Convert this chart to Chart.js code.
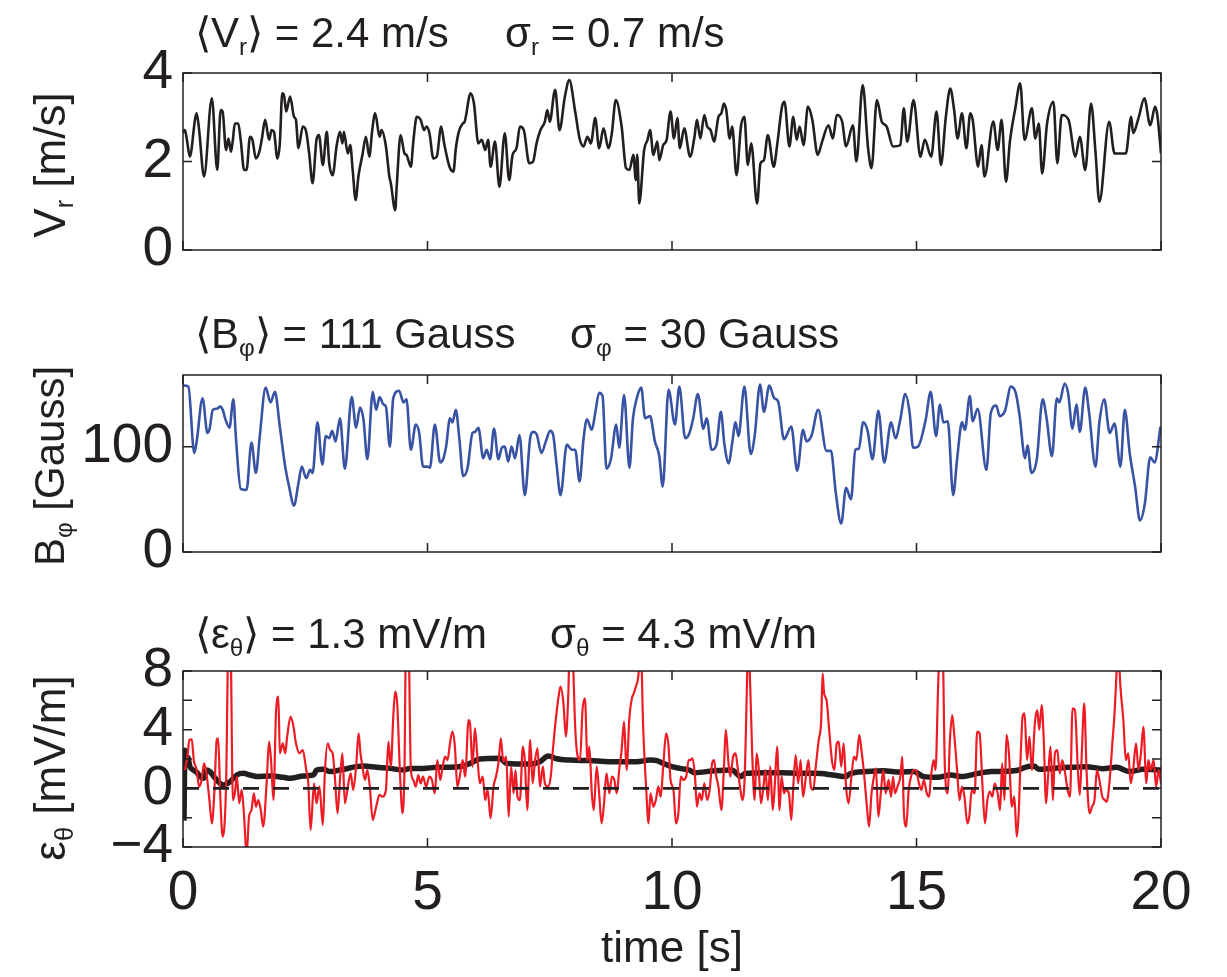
<!DOCTYPE html>
<html>
<head>
<meta charset="utf-8">
<script src="https://cdn.jsdelivr.net/npm/chart.js@4.4.0/dist/chart.umd.min.js"></script>
<style>
  body { margin: 0; background: #fff; }
  #wrap { position: relative; width: 1227px; height: 977px; overflow: hidden;
          font-family: 'Liberation Sans', Arial, Helvetica, sans-serif; color: #231f20; }
  #wrap canvas { position: absolute; left: 0; top: 0; }
  .t { position: absolute; font-size: 42px; line-height: 1; white-space: nowrap; }
  .yl { position: absolute; font-size: 44px; line-height: 1; white-space: nowrap;
        transform: translate(-50%, -50%) rotate(-90deg); }
  sub { font-size: 0.58em; vertical-align: -0.32em; line-height: 0; }
</style>
</head>
<body>
<div id="wrap">
  <canvas id="c1" width="1227" height="977"></canvas>
  <canvas id="c2" width="1227" height="977"></canvas>
  <canvas id="c3" width="1227" height="977"></canvas>

  <div class="t" style="left:195px; top:12px;">⟨V<sub>r</sub>⟩ = 2.4 m/s</div>
  <div class="t" style="left:505px; top:12px;">σ<sub>r</sub> = 0.7 m/s</div>
  <div class="t" style="left:195px; top:313px;">⟨B<sub>φ</sub>⟩ = 111 Gauss</div>
  <div class="t" style="left:570px; top:313px;">σ<sub>φ</sub> = 30 Gauss</div>
  <div class="t" style="left:195px; top:613px;">⟨ε<sub>θ</sub>⟩ = 1.3 mV/m</div>
  <div class="t" style="left:550px; top:613px;">σ<sub>θ</sub> = 4.3 mV/m</div>

  <div class="yl" style="left:50px; top:165px;">V<sub>r</sub> [m/s]</div>
  <div class="yl" style="left:50px; top:466px; font-size:42px;">B<sub>φ</sub> [Gauss]</div>
  <div class="yl" style="left:50px; top:768px;">ε<sub>θ</sub> [mV/m]</div>
  <div class="yl" style="left:672px; top:947px; transform: translate(-50%, -50%);">time [s]</div>
</div>
<script>
const INK = '#231f20';
const FONT = "'Liberation Sans', Arial, Helvetica, sans-serif";

// time ticks shared by the three panels
const timeTicks = [0, 5, 10, 15, 20];

// panel 1: radial velocity [m/s]
const vrTicks = [0, 2, 4];
const vrTickLabels = ['0', '2', '4'];
const vrSeries = [
  [0, 2.65], [0.04, 2.71], [0.08, 2.49], [0.14, 2.11], [0.25, 2.98], [0.28, 3.09], [0.33, 2.71], [0.43, 1.66],
  [0.59, 3.43], [0.70, 1.81], [0.77, 3.16], [0.81, 3.13], [0.88, 2.26], [0.93, 2.52], [0.98, 2.22], [1.02, 2.49],
  [1.06, 2.86], [1.13, 2.86], [1.18, 2.49], [1.25, 1.81], [1.30, 1.81], [1.37, 2.56], [1.42, 2.49], [1.49, 2.07],
  [1.56, 2.22], [1.61, 2.49], [1.68, 2.94], [1.76, 2.49], [1.81, 2.71], [1.86, 2.67], [1.93, 2.07], [1.98, 2.41],
  [2.03, 3.54], [2.07, 3.47], [2.11, 3.13], [2.19, 3.47], [2.27, 3.01], [2.31, 2.94], [2.36, 2.30], [2.45, 2.79],
  [2.52, 2.67], [2.58, 2.18], [2.65, 1.51], [2.73, 2.49], [2.78, 2.60], [2.86, 1.92], [2.94, 2.67], [2.99, 1.96],
  [3.06, 1.69], [3.14, 2.34], [3.21, 2.67], [3.26, 2.41], [3.29, 2.67], [3.37, 2.18], [3.42, 2.37], [3.47, 1.81],
  [3.53, 1.13], [3.59, 1.69], [3.67, 2.15], [3.74, 2.56], [3.81, 2.11], [3.87, 2.71], [3.93, 3.09], [4.02, 2.56],
  [4.06, 2.71], [4.15, 2.34], [4.22, 1.66], [4.25, 1.51], [4.34, 0.90], [4.37, 1.43], [4.45, 2.60], [4.53, 2.18],
  [4.57, 2.15], [4.66, 1.88], [4.71, 2.45], [4.78, 3.01], [4.86, 2.94], [4.93, 2.71], [4.98, 2.79], [5.04, 2.64],
  [5.12, 2.07], [5.19, 2.11], [5.28, 2.79], [5.34, 2.41], [5.45, 1.88], [5.53, 1.77], [5.58, 2.30], [5.64, 2.67],
  [5.72, 2.86], [5.76, 2.90], [5.88, 3.54], [5.95, 3.31], [6.04, 2.41], [6.11, 2.49], [6.18, 2.26], [6.24, 2.49],
  [6.29, 1.88], [6.38, 2.45], [6.47, 1.43], [6.58, 2.64], [6.67, 1.58], [6.74, 2.15], [6.82, 2.30], [6.89, 2.79],
  [6.97, 2.71], [7.08, 1.96], [7.16, 2.00], [7.23, 2.41], [7.31, 2.71], [7.40, 2.90], [7.45, 3.16], [7.50, 2.90],
  [7.61, 3.62], [7.70, 2.71], [7.81, 3.47], [7.90, 3.84], [8.02, 3.13], [8.11, 2.52], [8.19, 2.34], [8.27, 2.56],
  [8.34, 2.41], [8.43, 2.98], [8.51, 2.30], [8.60, 2.75], [8.70, 2.30], [8.77, 2.64], [8.85, 3.39], [8.97, 2.79],
  [9.06, 1.85], [9.13, 1.81], [9.21, 2.15], [9.26, 1.58], [9.29, 2.15], [9.33, 1.05], [9.43, 2.26], [9.50, 2.49],
  [9.55, 2.71], [9.62, 2.15], [9.70, 2.45], [9.74, 2.03], [9.82, 2.37], [9.89, 2.49], [9.97, 3.13], [10.04, 2.52],
  [10.11, 2.98], [10.16, 2.30], [10.25, 2.75], [10.37, 2.11], [10.46, 2.56], [10.51, 2.94], [10.58, 2.52], [10.66, 3.05],
  [10.72, 2.79], [10.79, 2.71], [10.86, 2.45], [10.95, 3.01], [11.01, 3.09], [11.06, 3.31], [11.11, 3.16], [11.18, 2.52],
  [11.23, 2.79], [11.32, 1.69], [11.41, 2.79], [11.48, 3.01], [11.55, 1.92], [11.62, 2.41], [11.74, 1.05], [11.81, 1.96],
  [11.88, 2.03], [11.96, 2.60], [12.08, 1.88], [12.15, 2.37], [12.25, 3.24], [12.30, 3.35], [12.40, 2.34], [12.48, 3.01],
  [12.55, 2.49], [12.61, 2.79], [12.69, 2.37], [12.78, 3.24], [12.87, 2.94], [12.98, 2.15], [13.07, 2.45], [13.20, 2.82],
  [13.29, 2.52], [13.37, 3.05], [13.48, 2.90], [13.56, 2.34], [13.70, 2.82], [13.77, 2.00], [13.90, 3.73], [14.01, 2.30],
  [14.08, 1.85], [14.19, 3.39], [14.29, 2.90], [14.39, 2.79], [14.52, 2.34], [14.67, 2.37], [14.74, 3.20], [14.81, 2.45],
  [14.94, 3.39], [15.08, 2.11], [15.17, 2.49], [15.30, 2.11], [15.41, 3.13], [15.50, 1.92], [15.60, 3.01], [15.69, 3.65],
  [15.77, 3.16], [15.84, 2.52], [15.93, 3.09], [16.02, 2.30], [16.10, 3.09], [16.15, 2.94], [16.26, 1.88], [16.33, 2.37],
  [16.39, 1.66], [16.57, 2.90], [16.66, 2.26], [16.74, 2.94], [16.83, 1.54], [16.91, 2.45], [17.02, 3.20], [17.12, 3.77],
  [17.21, 2.49], [17.36, 3.20], [17.43, 2.52], [17.50, 2.86], [17.57, 1.73], [17.67, 2.86], [17.80, 3.35], [17.88, 1.96],
  [17.97, 3.05], [18.11, 2.94], [18.25, 2.11], [18.34, 2.56], [18.45, 1.81], [18.57, 3.31], [18.66, 2.22], [18.74, 1.09],
  [18.94, 2.90], [19.05, 2.18], [19.28, 2.18], [19.39, 3.01], [19.43, 2.64], [19.54, 2.98], [19.66, 3.43], [19.78, 2.82],
  [19.88, 3.24], [19.93, 3.01], [20.00, 2.18]
];

// panel 2: toroidal field [Gauss]
const bTicks = [0, 100];
const bTickLabels = ['0', '100'];
const bSeries = [
  [0, 158], [0.02, 158], [0.11, 157], [0.23, 94], [0.28, 105], [0.40, 146], [0.50, 113], [0.54, 116], [0.61, 135],
  [0.69, 136], [0.76, 138], [0.82, 134], [0.86, 127], [0.95, 118], [1.03, 145], [1.08, 110], [1.18, 60], [1.30, 59],
  [1.40, 104], [1.49, 75], [1.57, 110], [1.69, 156], [1.79, 142], [1.88, 152], [1.98, 119], [2.09, 81], [2.17, 62],
  [2.27, 44], [2.36, 65], [2.43, 81], [2.52, 70], [2.60, 78], [2.65, 75], [2.75, 123], [2.85, 83], [2.92, 110],
  [2.99, 108], [3.05, 115], [3.12, 105], [3.21, 127], [3.31, 79], [3.45, 147], [3.54, 118], [3.62, 137], [3.69, 126],
  [3.77, 88], [3.88, 152], [3.95, 135], [4.02, 147], [4.10, 140], [4.15, 138], [4.23, 100], [4.30, 146], [4.42, 153],
  [4.51, 142], [4.57, 145], [4.66, 97], [4.76, 121], [4.83, 113], [4.91, 81], [5.00, 81], [5.05, 80], [5.15, 121],
  [5.26, 85], [5.32, 88], [5.38, 100], [5.46, 127], [5.51, 123], [5.58, 135], [5.65, 108], [5.73, 72], [5.82, 80],
  [5.92, 113], [5.97, 114], [6.04, 118], [6.14, 89], [6.21, 97], [6.28, 88], [6.36, 117], [6.45, 88], [6.52, 99],
  [6.58, 100], [6.65, 86], [6.72, 100], [6.79, 89], [6.88, 111], [6.99, 54], [7.10, 108], [7.16, 114], [7.23, 112],
  [7.33, 94], [7.42, 105], [7.51, 115], [7.57, 111], [7.64, 83], [7.72, 54], [7.85, 102], [7.95, 97], [8.02, 97],
  [8.11, 67], [8.19, 107], [8.26, 126], [8.36, 116], [8.43, 132], [8.51, 151], [8.58, 148], [8.66, 79], [8.75, 88],
  [8.86, 121], [8.92, 99], [9.02, 149], [9.13, 80], [9.20, 126], [9.28, 146], [9.37, 156], [9.45, 127], [9.55, 129],
  [9.65, 105], [9.74, 91], [9.81, 62], [9.93, 154], [10.06, 121], [10.15, 157], [10.27, 108], [10.35, 112],
  [10.43, 126], [10.53, 150], [10.64, 117], [10.71, 127], [10.81, 97], [10.91, 102], [11.00, 133], [11.07, 103],
  [11.16, 84], [11.23, 103], [11.30, 123], [11.36, 110], [11.48, 157], [11.61, 93], [11.69, 110], [11.80, 159],
  [11.88, 133], [11.99, 158], [12.09, 146], [12.17, 143], [12.29, 107], [12.44, 119], [12.56, 77], [12.68, 116],
  [12.75, 105], [12.85, 110], [12.99, 135], [13.16, 96], [13.25, 96], [13.35, 56], [13.46, 27], [13.56, 61],
  [13.66, 50], [13.75, 97], [13.82, 98], [13.91, 123], [14.00, 115], [14.10, 88], [14.22, 134], [14.34, 85],
  [14.48, 123], [14.57, 108], [14.67, 126], [14.77, 150], [14.86, 132], [14.93, 99], [15.03, 100], [15.19, 126],
  [15.29, 152], [15.40, 110], [15.48, 140], [15.55, 123], [15.64, 124], [15.75, 54], [15.83, 88], [15.93, 123],
  [15.99, 116], [16.09, 148], [16.15, 124], [16.25, 136], [16.43, 78], [16.52, 132], [16.63, 139], [16.70, 129],
  [16.81, 134], [16.93, 157], [17.03, 151], [17.11, 129], [17.22, 89], [17.27, 101], [17.35, 75], [17.46, 88],
  [17.58, 145], [17.66, 127], [17.77, 91], [17.87, 146], [17.92, 142], [18.03, 160], [18.10, 151], [18.19, 117],
  [18.27, 140], [18.34, 114], [18.45, 156], [18.53, 132], [18.66, 81], [18.74, 123], [18.84, 145], [18.95, 113],
  [19.05, 122], [19.17, 81], [19.26, 135], [19.36, 94], [19.47, 62], [19.57, 30], [19.67, 46], [19.78, 90],
  [19.87, 85], [19.99, 119]
];

// panel 3: electric field [mV/m], raw signal and running mean
const eTicks = [-4, -2, 0, 2, 4, 6, 8];
const eTickLabels = ['\u22124', '', '0', '', '4', '', '8'];
const eSeries = [
  [0.04, 1.25], [0.09, 2.16], [0.13, 3.30], [0.18, 3.34], [0.22, 1.93], [0.28, 1.25], [0.33, 0.11], [0.38, 0.57],
  [0.43, 1.70], [0.48, 1.02], [0.54, -0.80], [0.59, -2.39], [0.64, -0.34], [0.69, 3.30], [0.72, 3.41], [0.76, -0.34],
  [0.81, -3.30], [0.88, 0.11], [0.93, 10], [0.97, 10], [1.02, -0.80], [1.06, -0.34], [1.10, 0.80], [1.15, -1.02],
  [1.20, -0.11], [1.25, -1.93], [1.30, -4.6], [1.35, -1.93], [1.40, -1.48], [1.45, -0.34], [1.49, -1.25], [1.54, -0.80],
  [1.59, -1.48], [1.64, -2.61], [1.71, 0.34], [1.76, 3.18], [1.80, 1.93], [1.85, -0.80], [1.90, 5.00], [1.95, 6.25],
  [1.98, 2.39], [2.04, 3.07], [2.09, 2.39], [2.13, 3.52], [2.20, 4.89], [2.26, 4.20], [2.31, 3.07], [2.38, 2.39],
  [2.45, 2.61], [2.52, 1.25], [2.56, 0.45], [2.61, -2.84], [2.68, 0.34], [2.73, -1.02], [2.79, 0.11], [2.86, -2.50],
  [2.90, 1.02], [2.96, 3.07], [3.01, 2.61], [3.06, 2.39], [3.11, 0.57], [3.16, -1.70], [3.21, 0.57], [3.26, 2.39],
  [3.31, -1.02], [3.37, 0.11], [3.43, 1.02], [3.48, -0.11], [3.54, 1.48], [3.59, 3.75], [3.63, 2.39], [3.67, 1.48],
  [3.72, 0.57], [3.77, 1.25], [3.82, 0.11], [3.88, -2.16], [3.95, -1.25], [4.02, -0.45], [4.08, -0.57], [4.15, -0.11],
  [4.20, 3.18], [4.25, 1.48], [4.30, 4.89], [4.34, 6.59], [4.38, 5.80], [4.44, 0.80], [4.49, -1.70], [4.53, 1.48],
  [4.56, 10], [4.61, 10], [4.66, 1.25], [4.71, 0.57], [4.76, 0.11], [4.81, 0.91], [4.86, 0.34], [4.91, 0.80],
  [4.97, 0.11], [5.04, 0.80], [5.09, 0.57], [5.15, -0.34], [5.20, 1.93], [5.26, 0.57], [5.31, 1.48], [5.36, 2.16],
  [5.41, 1.93], [5.46, 3.07], [5.51, 3.86], [5.56, 2.84], [5.61, 0.11], [5.67, 1.02], [5.72, 1.93], [5.77, 0.80],
  [5.84, 4.66], [5.87, 4.43], [5.92, 1.48], [5.97, 4.09], [6.02, 2.16], [6.07, 0.34], [6.13, 0.80], [6.18, -0.80],
  [6.23, -0.11], [6.29, -2.05], [6.35, 0.11], [6.40, 0.80], [6.45, 1.70], [6.50, 3.41], [6.55, 1.82], [6.61, 2.16],
  [6.66, -1.93], [6.71, 1.48], [6.76, -0.34], [6.80, 1.25], [6.84, -0.57], [6.89, -0.80], [6.95, 2.84], [6.99, 1.93],
  [7.04, -1.48], [7.10, 3.30], [7.15, 0.34], [7.20, 1.93], [7.25, 2.73], [7.30, 0.11], [7.36, 1.48], [7.40, 0.34],
  [7.46, 0.11], [7.52, 0.80], [7.57, 2.84], [7.63, 4.89], [7.68, 6.25], [7.72, 6.93], [7.78, 5.80], [7.83, 3.52],
  [7.88, 6.48], [7.91, 10], [7.97, 9], [8.02, 4.20], [8.06, 2.39], [8.12, 1.93], [8.17, 5.34], [8.22, 6.14],
  [8.27, 1.93], [8.31, 2.84], [8.36, -0.34], [8.40, -1.48], [8.46, 1.48], [8.51, -0.34], [8.56, -2.39], [8.61, -1.02],
  [8.66, 1.02], [8.72, -0.34], [8.77, 0.80], [8.82, 0.57], [8.87, -0.34], [8.92, 1.25], [8.97, 2.61], [9.02, 4.55],
  [9.07, 1.25], [9.13, 4.89], [9.18, 6.14], [9.22, 6.48], [9.26, 6.93], [9.31, 7.61], [9.36, 10], [9.41, 4.20],
  [9.47, 0.11], [9.52, -2.39], [9.56, -0.34], [9.62, -1.25], [9.67, -0.80], [9.72, 0.11], [9.77, -0.57], [9.82, 1.48],
  [9.88, 3.75], [9.93, 2.84], [9.97, 0.57], [10.03, -0.11], [10.08, -2.39], [10.13, -1.70], [10.18, 0.80], [10.23, 0.57],
  [10.29, 0.80], [10.34, 1.93], [10.37, 1.93], [10.42, 2.05], [10.47, 0.80], [10.51, -1.25], [10.56, -0.34], [10.61, -0.80],
  [10.66, 0.34], [10.72, -0.80], [10.77, -0.11], [10.82, 1.70], [10.86, 1.93], [10.90, 0.91], [10.95, 0.11], [11.01, -1.48],
  [11.06, 1.25], [11.10, 3.98], [11.15, 1.93], [11.19, 0.80], [11.25, 2.16], [11.30, 2.39], [11.34, 1.48], [11.39, 0.11],
  [11.44, -0.80], [11.49, 1.02], [11.53, 6.70], [11.56, 10], [11.60, 6.93], [11.64, 2.39], [11.69, -0.80], [11.73, 2.39],
  [11.77, 1.48], [11.82, -1.02], [11.87, 0.11], [11.91, 1.25], [11.96, -0.80], [12.01, 1.48], [12.06, -1.48], [12.10, 0.11],
  [12.15, 2.84], [12.20, -1.48], [12.24, 0.80], [12.29, -0.34], [12.33, -0.11], [12.39, -0.34], [12.44, -2.16], [12.48, 0.11],
  [12.53, 2.27], [12.58, 0.34], [12.63, 1.93], [12.68, -0.57], [12.73, 0.57], [12.79, 1.93], [12.84, 0.11], [12.89, -0.11],
  [12.94, 1.48], [13.00, 3.30], [13.05, 4.55], [13.08, 7.84], [13.11, 6.48], [13.16, 6.02], [13.22, 3.75], [13.27, 1.93],
  [13.32, 1.25], [13.37, 3.07], [13.41, 3.18], [13.46, 1.48], [13.51, 3.07], [13.56, 0.11], [13.61, -1.02], [13.67, 0.80],
  [13.72, 2.16], [13.77, 1.93], [13.83, 3.64], [13.87, 2.73], [13.92, 1.25], [13.98, -1.02], [14.03, -2.61], [14.08, -0.34],
  [14.13, 0.80], [14.17, 1.36], [14.22, -1.93], [14.27, -0.34], [14.32, 1.25], [14.37, -0.34], [14.43, 0.57], [14.48, -0.57],
  [14.52, 0.80], [14.56, -0.34], [14.61, 0.11], [14.67, 0.80], [14.71, 2.16], [14.74, -1.48], [14.79, -2.61], [14.84, -0.11],
  [14.89, 0.80], [14.94, 1.25], [14.99, 1.25], [15.05, 0.34], [15.10, -0.11], [15.15, 0.57], [15.21, -0.34], [15.26, -0.57],
  [15.29, 0.57], [15.35, 1.93], [15.39, 1.25], [15.44, 6.70], [15.48, 10], [15.53, 10], [15.58, 1.48], [15.64, -0.34],
  [15.68, 3.07], [15.73, 5.00], [15.77, 3.75], [15.83, 1.25], [15.88, -0.80], [15.93, 0.11], [15.98, -0.57], [16.04, -2.39],
  [16.08, -1.93], [16.13, -0.11], [16.19, -0.34], [16.24, 3.86], [16.29, 3.75], [16.35, 0.11], [16.40, -2.39], [16.45, -0.80],
  [16.50, -0.23], [16.55, -0.57], [16.60, 0.34], [16.66, -0.34], [16.71, -1.48], [16.75, 1.70], [16.80, -0.80], [16.84, 3.64],
  [16.89, 2.39], [16.95, -1.25], [17.00, -0.57], [17.05, -3.30], [17.09, -1.70], [17.13, 2.16], [17.17, 4.89], [17.21, 5.11],
  [17.26, 1.93], [17.31, 3.52], [17.36, 1.25], [17.42, 4.43], [17.47, 5.34], [17.51, 3.98], [17.56, 5.68], [17.60, 3.52],
  [17.65, -1.02], [17.69, 0.80], [17.74, 2.84], [17.79, -0.80], [17.83, 2.39], [17.88, 2.61], [17.93, 1.02], [17.98, 1.93],
  [18.04, 1.02], [18.09, -0.11], [18.14, -0.57], [18.19, 5.45], [18.24, 5.34], [18.30, 1.25], [18.34, -0.45], [18.38, 2.39],
  [18.43, 5.80], [18.48, 1.02], [18.54, -1.70], [18.59, -1.25], [18.64, -0.80], [18.69, 1.25], [18.74, 0.57], [18.80, -0.57],
  [18.85, -0.80], [18.89, -0.91], [18.95, 0.57], [19.01, 3.30], [19.05, 5.11], [19.09, 7.84], [19.12, 10], [19.17, 6.93],
  [19.23, 4.66], [19.28, 1.93], [19.33, 2.39], [19.38, 0.34], [19.43, 1.25], [19.49, 3.07], [19.54, 1.25], [19.59, 2.39],
  [19.64, 4.20], [19.70, 0.34], [19.74, 1.93], [19.79, 1.25], [19.85, 1.93], [19.90, 0.11], [19.95, 1.25], [20.00, 0.34]
];
const eMeanSeries = [
  [0.02, -2.2], [0.04, 2.6], [0.06, 1.70], [0.10, 2.10], [0.14, 1.50], [0.21, 1.25], [0.28, 1.10], [0.35, 0.80],
  [0.42, 0.68], [0.48, 1.25], [0.55, 1.14], [0.69, 0.57], [0.82, 0.23], [0.96, 0.45], [1.10, 0.91], [1.23, 1.02],
  [1.37, 0.91], [1.51, 0.80], [1.78, 0.84], [2.05, 0.75], [2.19, 0.68], [2.46, 0.84], [2.67, 0.91], [2.73, 1.25],
  [2.87, 1.30], [3.01, 1.14], [3.28, 1.30], [3.55, 1.48], [3.69, 1.52], [3.96, 1.43], [4.23, 1.36], [4.51, 1.25],
  [4.64, 1.36], [4.91, 1.36], [5.19, 1.43], [5.46, 1.43], [5.73, 1.52], [5.87, 1.70], [6.07, 2.00], [6.48, 2.05],
  [6.62, 1.70], [7.10, 1.66], [7.30, 1.82], [7.47, 2.20], [7.64, 2.02], [7.91, 1.93], [8.32, 1.89], [8.72, 1.82],
  [9.28, 1.82], [9.55, 1.93], [9.69, 1.89], [9.82, 1.70], [9.96, 1.52], [10.16, 1.36], [10.35, 1.25], [10.46, 1.07],
  [10.87, 1.20], [11.22, 1.25], [11.41, 0.80], [11.49, 1.02], [11.91, 1.07], [12.25, 1.07], [12.60, 1.02], [12.94, 1.02],
  [13.29, 0.91], [13.56, 0.80], [13.63, 0.98], [13.98, 1.14], [14.32, 1.20], [14.67, 1.11], [14.94, 1.14], [15.15, 0.80],
  [15.43, 0.75], [15.70, 0.91], [15.91, 0.80], [16.26, 1.02], [16.53, 1.14], [16.81, 1.16], [17.09, 1.25], [17.22, 1.43],
  [17.40, 1.52], [17.50, 1.30], [17.78, 1.36], [18.12, 1.43], [18.47, 1.48], [18.81, 1.34], [19.09, 1.43], [19.36, 1.14],
  [19.64, 1.30], [20.00, 1.25]
];
const zeroLine = [[0, 0], [20, 0]];

Chart.defaults.font.family = FONT;
Chart.defaults.color = INK;

const toPoints = series => series.map(([x, y]) => ({x, y}));

// MATLAB-like box with inward tick marks on all four sides
const frameTicks = {
  id: 'frameTicks',
  afterDatasetsDraw(chart) {
    const {ctx, chartArea: a, scales} = chart;
    const len = 9;
    ctx.save();
    ctx.strokeStyle = INK;
    ctx.lineWidth = 1.5;
    ctx.beginPath();
    scales.x.ticks.forEach(t => {
      const px = scales.x.getPixelForValue(t.value);
      ctx.moveTo(px, a.bottom);
      ctx.lineTo(px, a.bottom - len);
      ctx.moveTo(px, a.top);
      ctx.lineTo(px, a.top + len);
    });
    scales.y.ticks.forEach(t => {
      const py = scales.y.getPixelForValue(t.value);
      ctx.moveTo(a.left, py);
      ctx.lineTo(a.left + len, py);
      ctx.moveTo(a.right, py);
      ctx.lineTo(a.right - len, py);
    });
    ctx.stroke();
    ctx.strokeRect(a.left, a.top, a.right - a.left, a.bottom - a.top);
    ctx.restore();
  }
};

const makePanel = (canvasId, opts) => {
  const {datasets, yMin, yMax, yTicks, yLabels, top, bottom, showX} = opts;
  return new Chart(document.getElementById(canvasId), {
    type: 'line',
    data: {datasets},
    options: {
      responsive: false,
      animation: false,
      layout: {padding: {top: top, right: 66, left: 0, bottom: 0}},
      plugins: {legend: {display: false}, tooltip: {enabled: false}},
      elements: {point: {radius: 0}, line: {cubicInterpolationMode: 'monotone', borderJoinStyle: 'round'}},
      scales: {
        x: {
          type: 'linear',
          min: 0,
          max: 20,
          afterBuildTicks: s => { s.ticks = timeTicks.map(v => ({value: v})); },
          afterFit: s => { s.height = 977 - bottom; },
          grid: {display: false, drawTicks: false},
          border: {display: false},
          ticks: {display: showX, font: {size: 55}, color: INK, padding: 14, maxRotation: 0, autoSkip: false}
        },
        y: {
          type: 'linear',
          min: yMin,
          max: yMax,
          afterBuildTicks: s => { s.ticks = yTicks.map(v => ({value: v})); },
          afterFit: s => { s.width = 183; },
          grid: {display: false, drawTicks: false},
          border: {display: false},
          ticks: {font: {size: 55}, color: INK, padding: 10, autoSkip: false,
                  callback: (value, index) => yLabels[index]}
        }
      }
    },
    plugins: [frameTicks]
  });
};

makePanel('c1', {
  datasets: [{data: toPoints(vrSeries), borderColor: INK, borderWidth: 2.6}],
  yMin: 0, yMax: 4, yTicks: vrTicks, yLabels: vrTickLabels, top: 73, bottom: 250, showX: false
});

makePanel('c2', {
  datasets: [{data: toPoints(bSeries), borderColor: '#3953a4', borderWidth: 2.6}],
  yMin: 0, yMax: 168, yTicks: bTicks, yLabels: bTickLabels, top: 375, bottom: 552, showX: false
});

makePanel('c3', {
  datasets: [
    {data: toPoints(zeroLine), borderColor: INK, borderWidth: 2.8, borderDash: [16, 14]},
    {data: toPoints(eSeries), borderColor: '#ed1c24', borderWidth: 2.2},
    {data: toPoints(eMeanSeries), borderColor: INK, borderWidth: 5.5}
  ],
  yMin: -4, yMax: 8, yTicks: eTicks, yLabels: eTickLabels, top: 671, bottom: 847, showX: true
});
</script>
</body>
</html>
